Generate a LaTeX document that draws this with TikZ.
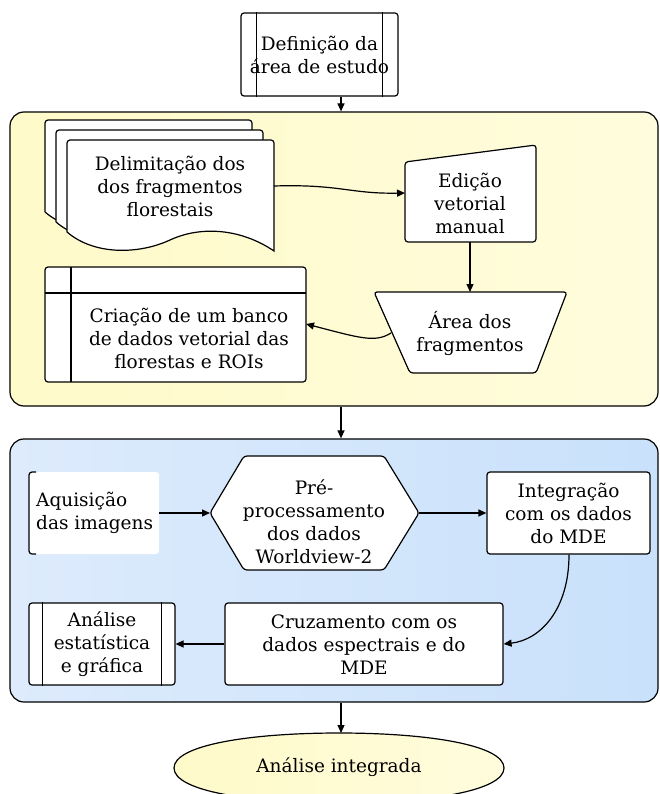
\documentclass[tikz,border=0pt]{standalone}
\usepackage{fontspec}
\setmainfont{DejaVu Serif}
\usetikzlibrary{arrows.meta}
\definecolor{yelA}{HTML}{FFFAC9}
\definecolor{yelB}{HTML}{FFFCDD}
\definecolor{bluA}{HTML}{DDEBFC}
\definecolor{bluB}{HTML}{C9E1FB}
\begin{document}
\begin{tikzpicture}[x=1pt,y=-1pt,
  shp/.style={draw,line width=1.2pt,fill=white,rounded corners=3pt},
  lbl/.style={align=center,font=\fontsize{18.5}{23}\selectfont,inner sep=0pt},
  arr/.style={-{Triangle[length=8pt,width=7pt]},line width=1.2pt},
  cont/.style={draw,line width=1.2pt,rounded corners=14pt,minimum width=648pt,inner sep=0pt}]
\useasboundingbox (0,0) rectangle (659,794);
% containers
\node[cont,minimum height=294pt,left color=yelA,right color=yelB] (yel) at (334,259) {};
\node[cont,minimum height=263pt,left color=bluA,right color=bluB] (blu) at (334,570.5) {};
% top predefined process
\node[shp,minimum width=157pt,minimum height=83pt,inner sep=0pt] (defbox) at (319.5,54.5) {};
\draw[line width=1.2pt] ([xshift=16pt]defbox.north west) -- ([xshift=16pt]defbox.south west);
\draw[line width=1.2pt] ([xshift=-16pt]defbox.north east) -- ([xshift=-16pt]defbox.south east);
\node[lbl] (deft) at (319.5,55) {Definição da\\área de estudo};
% document stack
\foreach \dx/\dy in {-22/-20,-11/-10,0/0}{
  \draw[shp,rounded corners=0pt] ([shift={(\dx,\dy)}]67,232) -- ([shift={(\dx,\dy)}]67,143) [rounded corners=3pt] -- ([shift={(\dx,\dy)}]67,140) -- ([shift={(\dx,\dy)}]274,140) [rounded corners=0pt] -- ([shift={(\dx,\dy)}]274,251)
   .. controls ([shift={(\dx,\dy)}]240,228) and ([shift={(\dx,\dy)}]200,226) .. ([shift={(\dx,\dy)}]170,240)
   .. controls ([shift={(\dx,\dy)}]140,254) and ([shift={(\dx,\dy)}]95,256) .. ([shift={(\dx,\dy)}]67,232);
}
\node[lbl] (doc) at (170,186) {Delimitação dos\\dos fragmentos\\florestais};
\coordinate (docE) at (274,186);
% manual input
\draw[shp] (405,162) -- (536,145) -- (536,242) -- (405,242) -- cycle;
\node[lbl] (edi) at (470,203) {Edição\\vetorial\\manual};
\coordinate (ediW) at (405,193);
\coordinate (ediS) at (470,242);
% manual operation
\draw[shp] (374,292) -- (567,292) -- (536,373) -- (410,373) -- cycle;
\node[lbl] (area) at (470,333) {Área dos\\fragmentos};
\coordinate (areaN) at (470,292);
\coordinate (areaW) at (391,333);
% database
\draw[shp] (45,267) rectangle (306,382);
\draw[line width=1.2pt] (45,293) -- (306,293) (71,267) -- (71,382);
\node[lbl] (cri) at (189,338) {Criação de um banco\\de dados vetorial das\\florestas e ROIs};
\coordinate (criE) at (306,324);
% blue group
\fill[white,rounded corners=3pt] (29,472) rectangle (159,554);
\draw[line width=1.2pt,rounded corners=3pt] (36,472) -- (29,472) -- (29,554) -- (36,554);
\node[lbl,align=left,anchor=west] (aq) at (36,513) {Aquisição\\das imagens};
\coordinate (aqE) at (159,513);
\draw[shp] (210,513) -- (244,456) -- (384,456) -- (419,513) -- (384,570) -- (244,570) -- cycle;
\node[lbl] (pre) at (314,522) {Pré-\\processamento\\dos dados\\Worldview-2};
\coordinate (preW) at (210,513);
\coordinate (preE) at (419,513);
\node[shp,minimum width=163pt,minimum height=82pt,inner sep=0pt] (intbox) at (568.5,513) {};
\node[lbl] (int) at (568.5,513) {Integração\\com os dados\\do MDE};
\node[shp,minimum width=278pt,minimum height=82pt,inner sep=0pt] (cruz) at (364,644) {};
\node[lbl] (cruzt) at (364,645) {Cruzamento com os\\dados espectrais e do\\MDE};
\node[shp,minimum width=146pt,minimum height=82pt,inner sep=0pt] (anbox) at (102,644) {};
\draw[line width=1.2pt] ([xshift=14pt]anbox.north west) -- ([xshift=14pt]anbox.south west);
\draw[line width=1.2pt] ([xshift=-14pt]anbox.north east) -- ([xshift=-14pt]anbox.south east);
\node[lbl] (an) at (102,644) {Análise\\estatística\\e gráfica};
% terminal
\draw[line width=1.2pt,left color=yelA,right color=yelB] (174,768) .. controls (174,745) and (250,733) .. (339,733) .. controls (428,733) and (504,745) .. (504,768) .. controls (504,791) and (428,803) .. (339,803) .. controls (250,803) and (174,791) .. (174,768) -- cycle;
\node[lbl] (fin) at (339,767) {Análise integrada};
\coordinate (finN) at (341,733);
% connectors
\draw[arr] (defbox.south -| 341,0) -- (yel.north -| 341,0);
\draw[arr] (docE) .. controls (340,184) and (350,194) .. (ediW);
\draw[arr] (ediS) -- (areaN);
\draw[arr] (areaW) .. controls (375,343) and (360,338) .. (criE);
\draw[arr] (yel.south -| 341,0) -- (blu.north -| 341,0);
\draw[arr] (aqE) -- (preW);
\draw[arr] (preE) -- (intbox.west);
\draw[arr] ([xshift=0.5pt]intbox.south) .. controls (569,610) and (540,640) .. (cruz.east);
\draw[arr] (cruz.west) -- (anbox.east);
\draw[arr] (blu.south -| 341,0) -- (finN);
\end{tikzpicture}
\end{document}
